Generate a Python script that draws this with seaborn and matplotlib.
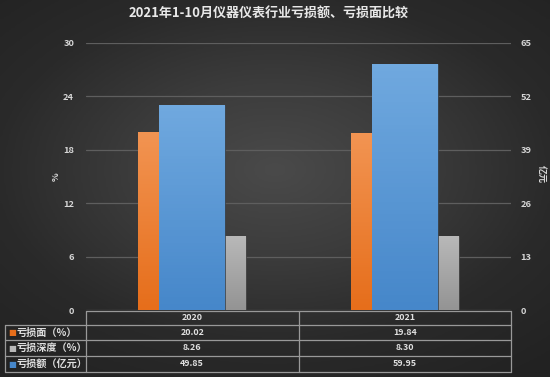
import numpy as np
import matplotlib
matplotlib.use("Agg")
import matplotlib.pyplot as plt
from matplotlib.colors import LinearSegmentedColormap
from matplotlib.lines import Line2D
import seaborn as sns

years = ["2020", "2021"]
loss_ratio = [20.02, 19.84]      # 亏损面 (%)
loss_depth = [8.26, 8.30]        # 亏损深度 (%)
loss_amount = [49.85, 59.95]     # 亏损额 (亿元)
row_labels = ["亏损面（%）", "亏损深度（%）", "亏损额（亿元）"]
left_ticks = [0, 6, 12, 18, 24, 30]
right_ticks = [0, 13, 26, 39, 52, 65]

c_orange = ("#f29452", "#e66e1b")
c_gray = ("#b8b8b8", "#949494")
c_blue = ("#70a9df", "#4687ca")

sns.set_style("dark")
plt.rcParams['font.family'] = ['Noto Sans CJK SC', 'DejaVu Sans']

W, H = 550, 377
fig = plt.figure(figsize=(W / 100, H / 100), dpi=100)


def fx(px):
    return px / W


def fy(py):
    return 1 - py / H


# dark radial background
bg = fig.add_axes([0, 0, 1, 1], zorder=-1)
gx, gy = np.meshgrid(np.linspace(-1, 1, 300), np.linspace(-1, 1, 200))
r = np.sqrt((gx * 0.95) ** 2 + ((gy + 0.1) * 1.05) ** 2)
bg_cmap = LinearSegmentedColormap.from_list("bg", ["#4a4a4a", "#3c3c3c", "#2a2a2a", "#222222"])
bg.imshow(r, cmap=bg_cmap, vmin=0, vmax=1.45, aspect="auto", extent=[0, 1, 0, 1])
bg.axis("off")

px0, px1, py_top, py_bot = 86, 511, 43, 310
ax = fig.add_axes([fx(px0), fy(py_bot), (px1 - px0) / W, (py_bot - py_top) / H])
ax.set_facecolor("none")


def shade(axis, patches, cols):
    cmap = LinearSegmentedColormap.from_list("g", [cols[1], cols[0]])
    for p in patches:
        x0, y0, w, h = p.get_x(), p.get_y(), p.get_width(), p.get_height()
        im = axis.imshow(np.linspace(0, 1, 64).reshape(-1, 1), extent=[x0, x0 + w, y0, y0 + h],
                         origin="lower", cmap=cmap, aspect="auto", zorder=p.get_zorder() + 0.1)
        im.set_clip_path(p)


idx = np.arange(len(years))
narrow = 0.098
b1 = ax.bar(idx - 0.205, loss_ratio, width=narrow, color=c_orange[1], edgecolor="#3a3a3a", linewidth=0.5, zorder=3)
b2 = ax.bar(idx + 0.205, loss_depth, width=narrow, color=c_gray[1], edgecolor="#3a3a3a", linewidth=0.5, zorder=3)
shade(ax, b1, c_orange)
shade(ax, b2, c_gray)

ax.set_xlim(-0.5, 1.5)
ax.set_ylim(0, 30)
ax.set_yticks(left_ticks)
ax.set_xticks([])
ax.grid(axis="y", color="#5e5e5e", linewidth=0.9)
ax.grid(axis="x", visible=False)
ax.set_axisbelow(True)
for s in ax.spines.values():
    s.set_visible(False)
ax.tick_params(axis="y", length=0, labelsize=6.7, labelcolor="#d6d6d6", pad=8.5)
for t in ax.get_yticklabels():
    t.set_fontweight("bold")

ax2 = ax.twinx()
sns.barplot(x=years, y=loss_amount, ax=ax2, width=0.31, color=c_blue[1],
            edgecolor="#3a3a3a", linewidth=0.5, saturation=1, zorder=3)
shade(ax2, ax2.patches, c_blue)
ax2.set_xlim(-0.5, 1.5)
ax2.set_ylim(0, 65)
ax2.set_yticks(right_ticks)
ax2.set_xticks([])
ax2.set_xlabel("")
ax2.set_ylabel("")
ax2.grid(False)
for s in ax2.spines.values():
    s.set_visible(False)
ax2.tick_params(axis="y", length=0, labelsize=6.7, labelcolor="#d6d6d6", pad=7)
for t in ax2.get_yticklabels():
    t.set_fontweight("bold")

# titles and axis names
fig.text(fx(269), fy(14), "2021年1-10月仪器仪表行业亏损额、亏损面比较", ha="center", va="center",
         fontsize=9.4, fontweight="bold", color="#e8e8e8")
fig.text(fx(56), fy(177), "%", ha="center", va="center", rotation=90, fontsize=6.5,
         fontweight="bold", color="#d6d6d6")
fig.text(fx(541), fy(174), "亿元", ha="center", va="center", rotation=-90, fontsize=6.5,
         fontweight="bold", color="#d6d6d6")

# data table below the plot
lc = "#999999"
t_top, rows_y = 311, [325, 340, 356, 372]
col_div = (px0 + px1) / 2
lab_left = 5


def hline(x0, x1, y):
    fig.add_artist(Line2D([fx(x0), fx(x1)], [fy(y), fy(y)], color=lc, linewidth=0.9))


def vline(x, y0, y1):
    fig.add_artist(Line2D([fx(x), fx(x)], [fy(y0), fy(y1)], color=lc, linewidth=0.9))


hline(px0, px1, t_top)
for y in rows_y:
    hline(lab_left, px1, y)
vline(lab_left, rows_y[0], rows_y[-1])
vline(px0, t_top, rows_y[-1])
vline(col_div, t_top, rows_y[-1])
vline(px1, t_top, rows_y[-1])

centers = [(px0 + col_div) / 2, (col_div + px1) / 2]
for c, yr in zip(centers, years):
    fig.text(fx(c), fy((t_top + rows_y[0]) / 2), yr, ha="center", va="center",
             fontsize=6.4, fontweight="bold", color="#e0e0e0")

table_vals = [loss_ratio, loss_depth, loss_amount]
sq_cols = [c_orange[1], c_gray[0], c_blue[1]]
bounds = [t_top] + rows_y
for i, (lab, vals) in enumerate(zip(row_labels, table_vals)):
    yc = (bounds[i + 1] + bounds[i + 2]) / 2
    fig.text(fx(8.5), fy(yc), "■", ha="left", va="center", fontsize=6, color=sq_cols[i],
             family="DejaVu Sans")
    fig.text(fx(17), fy(yc), lab, ha="left", va="center", fontsize=7.3,
             fontweight="bold", color="#e0e0e0")
    for c, v in zip(centers, vals):
        fig.text(fx(c), fy(yc), f"{v:.2f}", ha="center", va="center",
                 fontsize=6.4, fontweight="bold", color="#e0e0e0")

fig.savefig("out.png", dpi=100)
